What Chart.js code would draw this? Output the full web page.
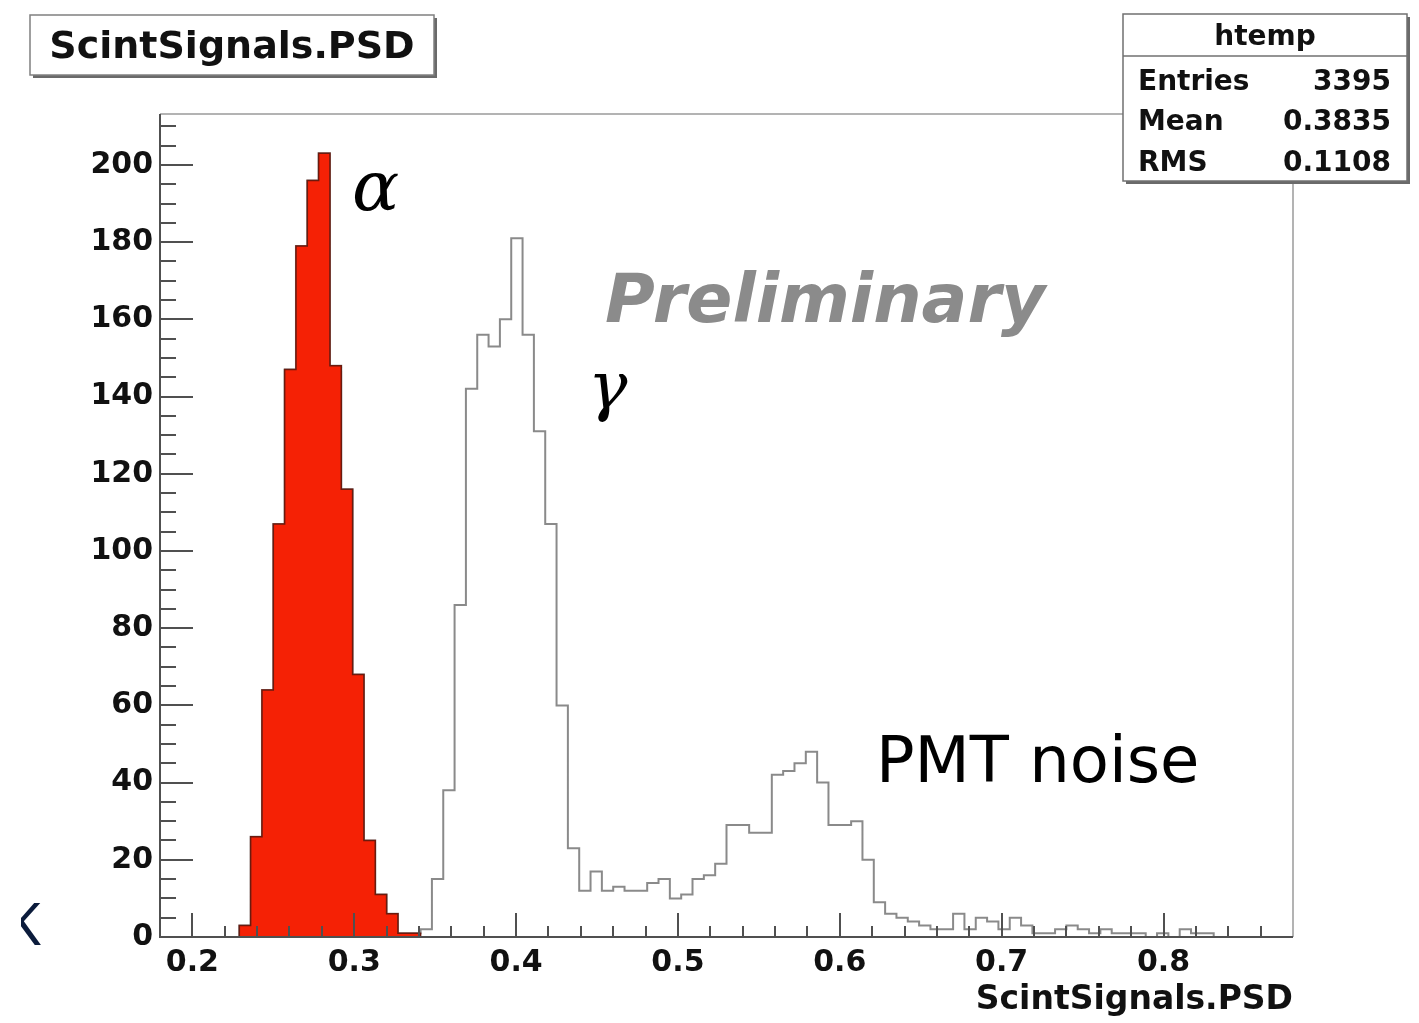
<!DOCTYPE html>
<html><head><meta charset="utf-8">
<script src="https://cdn.jsdelivr.net/npm/chart.js@4/dist/chart.umd.min.js"></script>
<style>html,body{margin:0;padding:0;background:#fff;}canvas{display:block;}</style>
</head><body>
<canvas id="c" width="1419" height="1023" style="width:1419px;height:1023px"></canvas>
<script>
// ---- data ----
const binLow = 0.18;          // lower edge of first bin
const binWidth = 0.007;       // 100 bins from 0.18 to 0.88
const totalCounts = [
  0,0,0,0,0,0,0,3,26,64,
  107,147,179,196,203,148,116,68,25,11,
  6,1,1,2,15,38,86,142,156,153,
  160,181,156,131,107,60,23,12,17,12,
  13,12,12,14,15,10,11,15,16,19,
  29,29,27,27,42,43,45,48,40,29,
  29,30,20,9,6,5,4,3,2,2,
  6,2,5,4,2,5,3,1,1,2,
  3,2,1,2,1,1,1,0,1,0,
  2,1,1,0,0,0,0,0,0,0
];
const alphaFirstBin = 7;
const alphaCounts = [3,26,64,107,147,179,196,203,148,116,68,25,11,6,1,1];
const xTickValues = [0.2,0.3,0.4,0.5,0.6,0.7,0.8];
const yTickValues = [0,20,40,60,80,100,120,140,160,180,200];
const xMin = 0.18, xMax = 0.88;
const yMin = 0, yMax = 213.2;
const titleText = 'ScintSignals.PSD';
const axisTitle = 'ScintSignals.PSD';
const statsName = 'htemp';
const statsLabels = ['Entries','Mean','RMS'];
const statsValues = ['3395','0.3835','0.1108'];

function stepPoints(first, counts){
  const pts = [{x: binLow + first*binWidth, y: 0}];
  counts.forEach((c,i)=>pts.push({x: binLow + (first+i)*binWidth, y: c}));
  pts.push({x: binLow + (first+counts.length)*binWidth, y: counts[counts.length-1]});
  pts.push({x: binLow + (first+counts.length)*binWidth, y: 0});
  return pts;
}

const AX = '#505050';
const decor = {
  id:'decor',
  afterDatasetsDraw(chart){
    const {ctx, chartArea:a, scales:{x,y}} = chart;
    ctx.save();
    ctx.lineCap='butt';
    ctx.strokeStyle='#9a9a9a'; ctx.lineWidth=1.5;
    ctx.beginPath(); ctx.moveTo(a.left,a.top); ctx.lineTo(a.right,a.top); ctx.lineTo(a.right,a.bottom); ctx.stroke();
    ctx.strokeStyle=AX; ctx.lineWidth=2;
    ctx.beginPath(); ctx.moveTo(a.left,a.top); ctx.lineTo(a.left,a.bottom); ctx.lineTo(a.right,a.bottom); ctx.stroke();
    for(let i=0;i*5<=yMax;i++){
      const v=i*5, py=Math.round(y.getPixelForValue(v));
      const len = (v%20===0)?33:16;
      ctx.beginPath(); ctx.moveTo(a.left,py); ctx.lineTo(a.left+len,py); ctx.stroke();
    }
    for(let i=10;i<=43;i++){
      const v=i*0.02, px=Math.round(x.getPixelForValue(v));
      const len = (i%5===0)?24:11;
      ctx.beginPath(); ctx.moveTo(px,a.bottom); ctx.lineTo(px,a.bottom-len); ctx.stroke();
    }
    ctx.restore();
  },
  afterDraw(chart){
    const ctx = chart.ctx;
    ctx.save();
    ctx.fillStyle='#6a6a6a'; ctx.fillRect(33,18,404,60);
    ctx.fillStyle='#fff'; ctx.fillRect(30,15,404,60);
    ctx.strokeStyle='#808080'; ctx.lineWidth=1.5; ctx.strokeRect(30,15,404,60);
    ctx.fillStyle='#111'; ctx.font='bold 38px "DejaVu Sans"'; ctx.textAlign='center'; ctx.textBaseline='alphabetic';
    ctx.fillText(titleText, 232, 58);
    const bx=1123, by=14, bw=284, bh=167;
    ctx.fillStyle='#6a6a6a'; ctx.fillRect(bx+3,by+3,bw,bh);
    ctx.fillStyle='#fff'; ctx.fillRect(bx,by,bw,bh);
    ctx.strokeStyle='#707070'; ctx.lineWidth=1.5; ctx.strokeRect(bx,by,bw,bh);
    ctx.beginPath(); ctx.moveTo(bx,56); ctx.lineTo(bx+bw,56); ctx.stroke();
    ctx.fillStyle='#111'; ctx.font='bold 28px "DejaVu Sans"';
    ctx.textAlign='center'; ctx.fillText(statsName, 1265, 45);
    const rowsY=[90,130,171];
    statsLabels.forEach((l,i)=>{
      ctx.textAlign='left'; ctx.fillText(l, 1138, rowsY[i]);
      ctx.textAlign='right'; ctx.fillText(statsValues[i], 1391, rowsY[i]);
    });
    ctx.textAlign='left';
    ctx.fillStyle='#8b8b8b'; ctx.font='italic bold 68px "DejaVu Sans"';
    ctx.fillText('Preliminary', 605, 322);
    ctx.fillStyle='#000'; ctx.font='italic 70px "DejaVu Serif"';
    ctx.fillText('α', 352, 210);
    ctx.font='italic 66px "DejaVu Serif"';
    ctx.fillText('γ', 588, 408);
    ctx.font='64px "DejaVu Sans"';
    ctx.fillText('PMT noise', 876, 782);
    ctx.save();
    ctx.beginPath(); ctx.rect(21,880,40,80); ctx.clip();
    ctx.fillStyle='#0b1b3b'; ctx.font='58px "Noto Sans"';
    ctx.fillText('K', 5, 945);
    ctx.restore();
    ctx.restore();
  }
};

new Chart(document.getElementById('c'), {
  type:'line',
  data:{datasets:[
    {label:'alpha', data:stepPoints(alphaFirstBin, alphaCounts), stepped:'before', fill:'origin',
     backgroundColor:'#f52105', borderColor:'#6b1a0e', borderWidth:1.5, pointRadius:0, order:0},
    {label:'htemp', data:stepPoints(0, totalCounts), stepped:'before', fill:false,
     borderColor:'#8a8a8a', borderWidth:2, pointRadius:0, order:1}
  ]},
  options:{
    responsive:false, animation:false, events:[],
    layout:{padding:{top:114,right:126,left:0,bottom:0}},
    plugins:{legend:{display:false}, tooltip:{enabled:false}},
    scales:{
      x:{type:'linear', min:xMin, max:xMax,
        grid:{display:false, drawTicks:false}, border:{display:false},
        afterBuildTicks:s=>{s.ticks=xTickValues.map(v=>({value:v}));},
        ticks:{callback:v=>Number(v).toFixed(1), font:{family:'DejaVu Sans', weight:'bold', size:30}, color:'#111', padding:8, maxRotation:0, autoSkip:false},
        title:{display:true, text:axisTitle, align:'end', font:{family:'DejaVu Sans', weight:'bold', size:33}, color:'#111', padding:{top:0,bottom:3}},
        afterFit:s=>{s.height=86;}
      },
      y:{type:'linear', min:yMin, max:yMax,
        grid:{display:false, drawTicks:false}, border:{display:false},
        afterBuildTicks:s=>{s.ticks=yTickValues.map(v=>({value:v}));},
        ticks:{callback:v=>String(v), font:{family:'DejaVu Sans', weight:'bold', size:30}, color:'#111', padding:7, autoSkip:false},
        afterFit:s=>{s.width=160;}
      }
    }
  },
  plugins:[decor]
});
</script>
</body></html>
